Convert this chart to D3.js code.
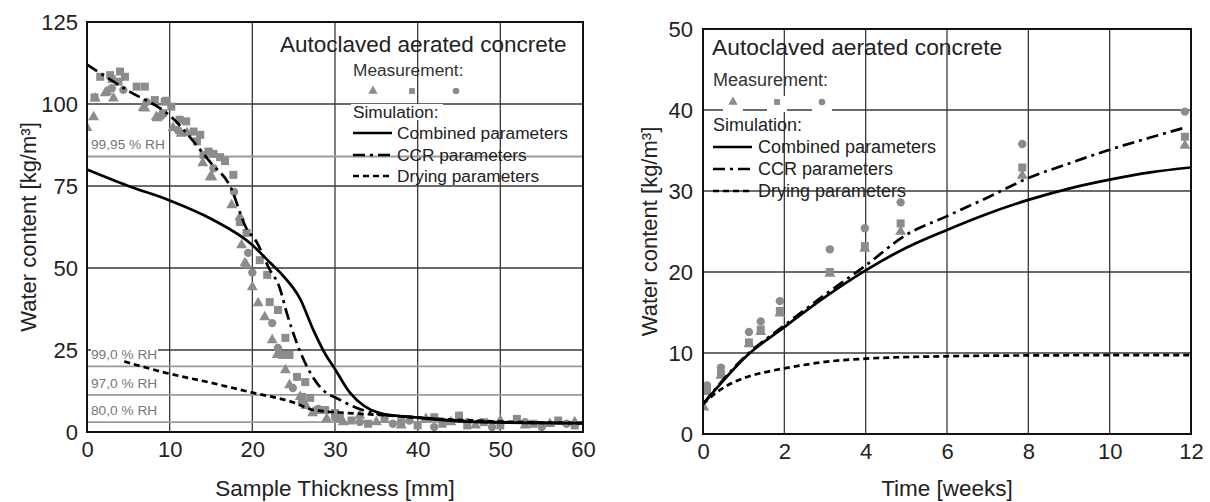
<!DOCTYPE html>
<html><head><meta charset="utf-8">
<script src="https://cdn.jsdelivr.net/npm/d3@7/dist/d3.min.js"></script>
<style>
html,body{margin:0;padding:0;background:#fff;}
svg{display:block;font-family:"Liberation Sans",Arial,sans-serif;}
</style></head>
<body>
<svg id="chart" width="1210" height="502"></svg>
<script>
// ---------- LEFT CHART DATA ----------
const leftXTicks = [0,10,20,30,40,50,60];
const leftYTicks = [0,25,50,75,100,125];
const leftCombined = [[0,80],[5,75],[10,70.6],[15,65],[20,57],[22,52],[23.4,48.5],[25.8,40.5],[27.4,31],[29,23],[29.8,20],[31.8,12],[33.5,8],[35.4,5.8],[40.3,4.3],[47.5,3],[60,2.7]];
const leftCCR = [[0,112],[5,104],[10,96.5],[15,82],[17.3,75],[19.3,62],[20.5,58],[22,50],[23.3,44],[24.2,36],[25.4,27],[26.6,20],[28.2,13.7],[30.6,9.8],[34.6,5.8],[40,4.4],[50,3],[60,2.7]];
const leftDrying = [[4.5,21.5],[9.6,18],[15,15],[20,12],[25,9],[27.4,6.7],[31.4,5.8],[35.4,5.2],[40,4.4],[50,3.2],[60,2.7]];
const leftTri = [[0,92.7],[0.8,96],[1,101.7],[2.2,103.3],[3.2,101.7],[2.4,103.7],[6.8,98.8],[7,98.7],[8.4,96.1],[8.5,95.7],[10.4,92.7],[11.4,91],[12.1,91.2],[14,82],[14.9,77.7],[15.1,77.7],[17.5,69.2],[18.5,65.5],[18.7,57],[19.1,51.5],[19.3,50.9],[20,44.2],[20.7,39.3],[21.5,35],[22.4,28],[23,23.5],[24,18.9],[24.5,14.3],[25.8,10.7],[26.5,8],[27.3,5.8],[29,4],[31,3],[33,5],[35,3],[38,2],[41,4],[44,3],[47,2],[50,3.5],[53,2],[56,2.5],[59,3]];
const leftSq = [[0.9,102],[1.6,108.3],[2.8,108.8],[3,107.6],[4,109.9],[4.6,108.3],[3.8,106.8],[6,105.3],[7,105.3],[8.2,101.2],[9.4,100.7],[9.6,101],[10.2,99.2],[9.2,97.2],[11.2,95.2],[12,94.7],[12.9,91.6],[13.7,90.6],[13.3,88.6],[14.1,84.5],[14.7,85.5],[15.3,84.8],[16.1,83.8],[16.7,82.6],[17.7,78.4],[18.5,64],[19.3,60.7],[20.9,52.4],[21.8,47.9],[22.1,39.6],[23.1,37.2],[24,28.7],[23.6,23.5],[24.5,23.5],[25.4,16.8],[26.4,15.2],[26,10.7],[27,10.4],[27.9,6.7],[28.8,6.7],[30,5.8],[30.6,4.3],[32,3.5],[34,2.5],[36,4],[38,3],[40,2],[42,4.5],[43,2.5],[45,5],[46,2],[48,3],[50,2],[52,4],[54,2.5],[57,3.5],[59,2]];
const leftCirc = [[3,104.8],[4.4,104.3],[7.2,100.6],[9,96.4],[11,92],[15.3,80.4],[17.8,73.2],[19.5,54.6],[20,48.6],[22.4,33.2],[23.1,25.6],[24.9,13.4],[26,9],[28,7],[30,4.5],[33,3],[37,2.5],[39,3.5],[42,1.5],[46,3],[49,1.5],[53,3],[55,1.5],[58,2.5]];
const rhLevels = [84, 20, 11.3, 3];
const rhLabels = ["99,95 % RH", "99,0 % RH", "97,0 % RH", "80,0 % RH"];

// ---------- RIGHT CHART DATA ----------
const rightXTicks = [0,2,4,6,8,10,12];
const rightYTicks = [0,10,20,30,40,50];
const rightCombined = [[0,3.7],[0.5,6.6],[1,9.3],[2,13.2],[3,16.9],[4,20.2],[5,23],[6,25.2],[7,27.2],[8,28.9],[9,30.3],[10,31.4],[11,32.3],[12,32.9]];
const rightCCR = [[0,3.7],[1,9.4],[2,13.4],[3,17.2],[4,20.8],[5,24.6],[6,26.9],[7,29.2],[8,31.6],[9,33.4],[10,35.1],[11,36.6],[11.9,37.9]];
const rightDrying = [[0,3.7],[0.25,4.8],[0.5,5.7],[1,6.9],[1.5,7.6],[2,8.1],[3,8.9],[4,9.3],[6,9.6],[8,9.7],[12,9.75]];
const rightTri = [[0.02,3.3],[0.1,5.2],[0.44,7.2],[1.13,11.1],[1.42,12.6],[1.89,14.9],[3.12,19.8],[3.98,22.9],[4.86,25.0],[7.85,31.9],[11.85,35.6]];
const rightSq = [[0.1,5.6],[0.44,7.4],[1.13,11.3],[1.42,12.9],[1.89,15.2],[3.12,20.0],[3.98,23.2],[4.86,26.0],[7.85,32.9],[11.85,36.7]];
const rightCirc = [[0.1,6.0],[0.44,8.2],[1.13,12.6],[1.42,13.9],[1.89,16.4],[3.12,22.8],[3.98,25.4],[4.86,28.6],[7.85,35.8],[11.85,39.8]];

const titleText = "Autoclaved aerated concrete";
const yLabel = "Water content [kg/m³]";
const leftXLabel = "Sample Thickness [mm]";
const rightXLabel = "Time [weeks]";
const legendItems = ["Combined parameters","CCR parameters","Drying parameters"];

// ---------- DRAWING ----------
const svg = d3.select("#chart");
const markerColor = "#8c8c8c";
const gridColor = "#3a3a3a";
const dashes = {solid: null, ccr: "12,5,3,5", dry: "6,4"};

function panel(cfg) {
  const {x, y, id} = cfg;
  const g = svg.append("g");
  const [x0, x1] = x.range(), [y0, y1] = y.range();
  svg.append("defs").append("clipPath").attr("id", id)
    .append("rect").attr("x", x0).attr("y", y1).attr("width", x1 - x0).attr("height", y0 - y1);

  // grid
  g.selectAll(".vg").data(cfg.xTicks).join("line")
    .attr("x1", d => x(d)).attr("x2", d => x(d)).attr("y1", y0).attr("y2", y1)
    .attr("stroke", gridColor).attr("stroke-width", 1.3);
  g.selectAll(".hg").data(cfg.yTicks).join("line")
    .attr("y1", d => y(d)).attr("y2", d => y(d)).attr("x1", x0).attr("x2", x1)
    .attr("stroke", gridColor).attr("stroke-width", 1.3);

  if (cfg.pre) cfg.pre(g);

  // scatter
  const plot = g.append("g").attr("clip-path", `url(#${id})`);
  const sets = [[cfg.tri, d3.symbolTriangle, 52], [cfg.sq, d3.symbolSquare, 64], [cfg.circ, d3.symbolCircle, 55]];
  sets.forEach(([data, type, size]) => {
    plot.selectAll(null).data(data).join("path")
      .attr("d", d3.symbol().type(type).size(size))
      .attr("transform", d => `translate(${x(d[0])},${y(d[1])})`)
      .attr("fill", markerColor);
  });

  // curves
  const line = d3.line().x(d => x(d[0])).y(d => y(d[1])).curve(d3.curveMonotoneX);
  [[cfg.dry, dashes.dry], [cfg.ccr, dashes.ccr], [cfg.comb, dashes.solid]].forEach(([data, da]) => {
    plot.append("path").datum(data).attr("d", line)
      .attr("fill", "none").attr("stroke", "#000").attr("stroke-width", 2.7)
      .attr("stroke-dasharray", da);
  });

  // frame
  g.append("rect").attr("x", x0).attr("y", y1).attr("width", x1 - x0).attr("height", y0 - y1)
    .attr("fill", "none").attr("stroke", "#111").attr("stroke-width", 2);

  // tick labels via axes
  const ax = g.append("g").attr("transform", `translate(0,${y0})`)
    .call(d3.axisBottom(x).tickValues(cfg.xTicks).tickSize(0).tickPadding(9).tickFormat(d3.format("d")));
  ax.select(".domain").remove();
  ax.selectAll("text").attr("font-size", 22).attr("fill", "#222").attr("font-family", "Liberation Sans, Arial, sans-serif");
  const ay = g.append("g").attr("transform", `translate(${x0},0)`)
    .call(d3.axisLeft(y).tickValues(cfg.yTicks).tickSize(0).tickPadding(cfg.yPad).tickFormat(d3.format("d")));
  ay.select(".domain").remove();
  ay.selectAll("text").attr("font-size", 22).attr("fill", "#222").attr("font-family", "Liberation Sans, Arial, sans-serif");

  // axis titles
  g.append("text").attr("x", (x0 + x1) / 2).attr("y", 496).attr("text-anchor", "middle")
    .attr("font-size", 22.5).attr("fill", "#222").text(cfg.xLabel);
  g.append("text").attr("transform", `translate(${cfg.yLabelX},${(y0 + y1) / 2}) rotate(-90)`)
    .attr("text-anchor", "middle").attr("font-size", 22).attr("fill", "#222").text(yLabel);

  // title
  g.append("text").attr("x", cfg.title[0]).attr("y", cfg.title[1]).attr("font-size", cfg.titleSize)
    .attr("fill", "#222").text(titleText);

  // legend
  const L = cfg.legend;
  g.append("text").attr("x", L.x).attr("y", L.measY).attr("font-size", L.fs).attr("fill", "#333").text("Measurement:");
  const mk = [[d3.symbolTriangle, 38], [d3.symbolSquare, 34], [d3.symbolCircle, 34]];
  mk.forEach(([type, size], i) => {
    if (L.whiteBg) g.append("rect").attr("x", L.mx[i] - 10).attr("y", L.my - 6).attr("width", 20).attr("height", 16).attr("fill", "#fff");
    g.append("path").attr("d", d3.symbol().type(type).size(size))
      .attr("transform", `translate(${L.mx[i]},${L.my})`).attr("fill", markerColor);
  });
  if (L.simBg) g.append("rect").attr("x", L.x - 2).attr("y", L.simY - 14).attr("width", 92).attr("height", 16).attr("fill", "#fff");
  g.append("text").attr("x", L.x).attr("y", L.simY).attr("font-size", L.fs).attr("fill", "#222").text("Simulation:");
  [dashes.solid, dashes.ccr, dashes.dry].forEach((da, i) => {
    const ly = L.lineY[i];
    g.append("line").attr("x1", L.x).attr("x2", L.x + 39).attr("y1", ly).attr("y2", ly)
      .attr("stroke", "#000").attr("stroke-width", 2.7).attr("stroke-dasharray", da);
    g.append("text").attr("x", L.x + L.textDx).attr("y", ly + 6).attr("font-size", L.fs).attr("fill", "#222").text(legendItems[i]);
  });
}

// Left panel
const xL = d3.scaleLinear().domain([0, 60]).range([87, 583]);
const yL = d3.scaleLinear().domain([0, 125]).range([432, 22]);
panel({
  id: "clipL", x: xL, y: yL, xTicks: leftXTicks, yTicks: leftYTicks,
  tri: leftTri, sq: leftSq, circ: leftCirc, comb: leftCombined, ccr: leftCCR, dry: leftDrying,
  yPad: 9, xLabel: leftXLabel, yLabelX: 36, title: [280, 52], titleSize: 22.5,
  legend: {x: 353, fs: 17.3, measY: 76, mx: [373, 412, 456], my: 91, simY: 118, lineY: [133, 155, 176], textDx: 44, simBg: true},
  pre: g => {
    g.selectAll(".rh").data(rhLevels).join("line")
      .attr("x1", 87).attr("x2", 583).attr("y1", d => yL(d)).attr("y2", d => yL(d))
      .attr("stroke", "#9a9a9a").attr("stroke-width", 1.8);
    // white background behind the 99,0 % RH label
    g.append("rect").attr("x", 91).attr("y", yL(rhLevels[1]) - 20).attr("width", 67).attr("height", 14).attr("fill", "#fff");
    g.selectAll(".rhl").data(rhLevels).join("text")
      .attr("x", 91).attr("y", d => yL(d) - 7)
      .attr("font-size", 13.7).attr("fill", "#777").text((d, i) => rhLabels[i]);
  }
});

// Right panel
const xR = d3.scaleLinear().domain([0, 12]).range([703, 1191]);
const yR = d3.scaleLinear().domain([0, 50]).range([434, 29]);
panel({
  id: "clipR", x: xR, y: yR, xTicks: rightXTicks, yTicks: rightYTicks,
  tri: rightTri, sq: rightSq, circ: rightCirc, comb: rightCombined, ccr: rightCCR, dry: rightDrying,
  yPad: 10, xLabel: rightXLabel, yLabelX: 657, title: [712, 55], titleSize: 22.8,
  legend: {x: 713, fs: 18, measY: 86, mx: [733, 777, 822], my: 102, simY: 131, lineY: [147, 169, 191], textDx: 45, whiteBg: true}
});
</script>
</body></html>
